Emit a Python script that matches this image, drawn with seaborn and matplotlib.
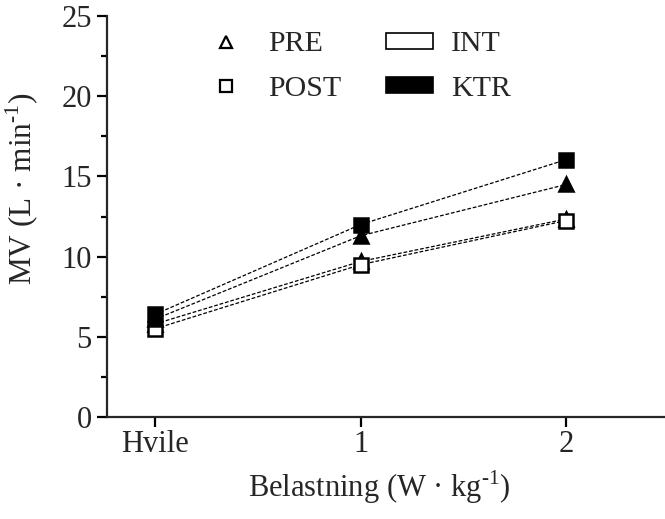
import matplotlib
matplotlib.use("Agg")
import matplotlib.pyplot as plt
import seaborn as sns
import pandas as pd
from matplotlib.lines import Line2D
from matplotlib.patches import Patch

categories = ["Hvile", "1", "2"]
ktr_post = [6.4, 12.0, 16.05]
ktr_pre = [6.1, 11.3, 14.5]
int_post = [5.5, 9.5, 12.25]
int_pre = [5.8, 9.7, 12.35]

series = {
    "INT PRE": int_pre,
    "INT POST": int_post,
    "KTR PRE": ktr_pre,
    "KTR POST": ktr_post,
}
rows = []
for name, vals in series.items():
    for i, v in enumerate(vals):
        rows.append({"serie": name, "x": i, "MV": v})
df = pd.DataFrame(rows)

sns.set_style("ticks")
plt.rcParams["font.family"] = ["Liberation Serif", "DejaVu Serif"]
plt.rcParams["mathtext.fontset"] = "custom"
plt.rcParams["mathtext.rm"] = "Liberation Serif"

fig = plt.figure(figsize=(6.65, 5.19), dpi=100)
ax = fig.add_axes([0.161, 0.1965, 0.839, 0.7726])

styles = {
    "INT PRE": dict(marker="^", mfc="white"),
    "INT POST": dict(marker="s", mfc="white"),
    "KTR PRE": dict(marker="^", mfc="black"),
    "KTR POST": dict(marker="s", mfc="black"),
}
for name in series:
    sub = df[df["serie"] == name]
    st = styles[name]
    sns.lineplot(data=sub, x="x", y="MV", ax=ax, color="black", lw=0.9,
                 linestyle=(0, (3, 1.5)), marker=st["marker"], markersize=10,
                 markerfacecolor=st["mfc"], markeredgecolor="black",
                 markeredgewidth=1.8, legend=False)

ax.set_xlim(-0.233, 2.48)
ax.set_ylim(0, 25)
ax.set_xticks(range(len(categories)))
ax.set_xticklabels(categories)
ax.set_yticks([0, 5, 10, 15, 20, 25])
ax.set_yticks([2.5, 7.5, 12.5, 17.5, 22.5], minor=True)
for s in ["top", "right"]:
    ax.spines[s].set_visible(False)
for s in ["left", "bottom"]:
    ax.spines[s].set_linewidth(1.6)
ax.tick_params(axis="both", which="major", length=7.5, width=1.6, labelsize=22, direction="out", color="black")
ax.tick_params(axis="x", which="major", pad=2)
ax.tick_params(axis="y", which="minor", length=4, width=1.6, color="black")
ax.set_xlabel("Belastning (W \u00b7 kg$^{\\mathregular{\u20101}}$)", fontsize=22)
ax.set_ylabel("MV (L \u00b7 min$^{\\mathregular{\u20101}}$)", fontsize=22.5)
ax.xaxis.label.set_va("center")
ax.yaxis.label.set_va("center")
ax.xaxis.set_label_coords(0.488, -0.175)
ax.yaxis.set_label_coords(-0.152, 0.569)

handles = [
    Line2D([], [], marker="^", ls="none", mfc="white", mec="black", mew=1.6, markersize=8),
    Line2D([], [], marker="s", ls="none", mfc="white", mec="black", mew=1.6, markersize=8),
    Patch(facecolor="white", edgecolor="black", lw=1.2),
    Patch(facecolor="black", edgecolor="black", lw=1.2),
]
labels = ["PRE", "POST", "INT", "KTR"]
ax.legend(handles, labels, ncol=2, loc="upper left", bbox_to_anchor=(0.171, 0.962),
          frameon=False, fontsize=21.5, handlelength=1.57, handleheight=0.45,
          columnspacing=1.5, labelspacing=0.62, handletextpad=0.62,
          borderpad=0, borderaxespad=0)

fig.savefig("out.png", dpi=100)
